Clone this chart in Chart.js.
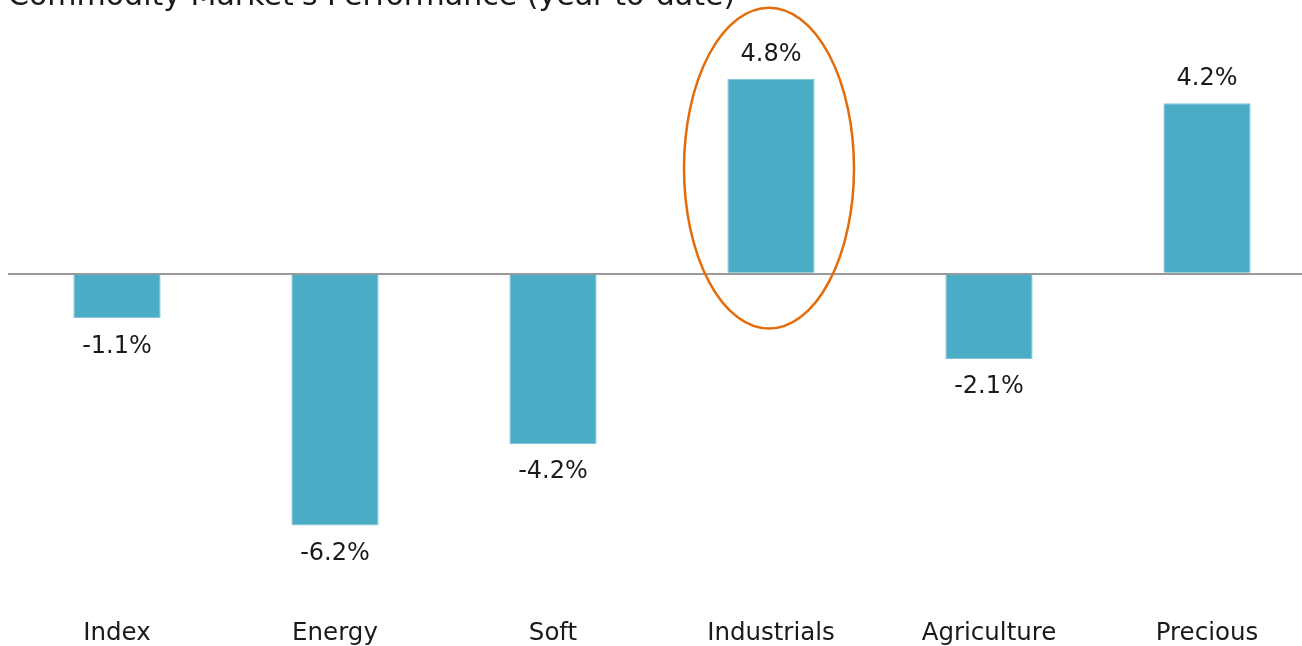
<!DOCTYPE html>
<html>
<head>
<meta charset="utf-8">
<script src="https://cdn.jsdelivr.net/npm/chart.js@4/dist/chart.umd.min.js"></script>
<style>
    html, body { margin: 0; padding: 0; background: #fff; overflow: hidden; width: 1302px; height: 646px; }
    #wrap { position: absolute; left: 0; top: -40px; width: 1316px; height: 700px; }
</style>
</head>
<body>
<div id="wrap"><canvas id="perfChart"></canvas></div>
<script>
const categories = ['Index', 'Energy', 'Soft', 'Industrials', 'Agriculture', 'Precious'];
const performance = [-1.1, -6.2, -4.2, 4.8, -2.1, 4.2];
const highlightIndex = 3;
const highlightRange = [-1.35, 6.55];

// value labels above / below each bar
const valueLabels = {
    id: 'valueLabels',
    afterDatasetsDraw(chart) {
        const ctx = chart.ctx;
        const meta = chart.getDatasetMeta(0);
        ctx.save();
        ctx.font = '24px "DejaVu Sans"';
        ctx.fillStyle = '#1a1a1a';
        ctx.textAlign = 'center';
        ctx.textBaseline = 'middle';
        meta.data.forEach((bar, i) => {
            const v = performance[i];
            const y = v >= 0 ? bar.y - 24 : bar.y + 28;
            ctx.fillText(v.toFixed(1) + '%', bar.x, y);
        });
        ctx.restore();
    }
};

// orange ellipse around the highlighted bar
const highlightEllipse = {
    id: 'highlightEllipse',
    afterDraw(chart) {
        const ctx = chart.ctx;
        const x = chart.scales.x.getPixelForValue(highlightIndex);
        const yTop = chart.scales.y.getPixelForValue(highlightRange[1]);
        const yBot = chart.scales.y.getPixelForValue(highlightRange[0]);
        ctx.save();
        ctx.strokeStyle = '#e46c0a';
        ctx.lineWidth = 2.5;
        ctx.beginPath();
        ctx.ellipse(x - 2, (yTop + yBot) / 2, 85, (yBot - yTop) / 2, 0, 0, Math.PI * 2);
        ctx.stroke();
        ctx.restore();
    }
};

new Chart(document.getElementById('perfChart'), {
    type: 'bar',
    data: {
        labels: categories,
        datasets: [{
            data: performance,
            backgroundColor: '#4bacc6',
            borderColor: '#7cc3d6',
            borderWidth: 1,
            categoryPercentage: 1,
            barPercentage: 0.4
        }]
    },
    options: {
        responsive: true,
        maintainAspectRatio: false,
        animation: false,
        layout: { padding: { left: 8, right: 0, top: 0, bottom: 0 } },
        plugins: {
            legend: { display: false },
            tooltip: { enabled: false },
            title: {
                display: true,
                text: "Commodity Market's Performance (year-to-date)",
                align: 'start',
                color: '#1a1a1a',
                font: { family: 'DejaVu Sans', size: 30, weight: 'normal' },
                padding: { top: 19, bottom: 5 }
            }
        },
        scales: {
            x: {
                grid: { display: false, drawTicks: false },
                border: { display: false },
                ticks: {
                    color: '#1a1a1a',
                    padding: 12,
                    font: { family: 'DejaVu Sans', size: 24.5 }
                }
            },
            y: {
                min: -8.2,
                max: 6.25,
                ticks: { display: false, stepSize: 1 },
                border: { display: false },
                grid: {
                    drawTicks: false,
                    color: ctx => ctx.tick.value === 0 ? '#999999' : 'rgba(0,0,0,0)',
                    lineWidth: 2
                }
            }
        }
    },
    plugins: [valueLabels, highlightEllipse]
});
</script>
</body>
</html>
